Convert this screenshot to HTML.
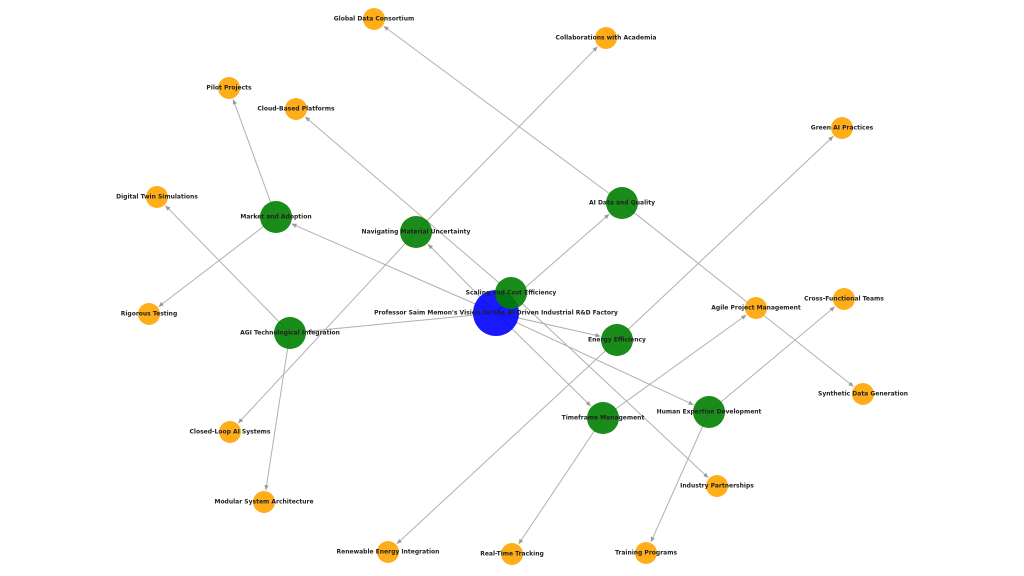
<!DOCTYPE html>
<html><head><meta charset="utf-8"><style>
html,body{margin:0;padding:0;background:#fff;}
svg{display:block;}
text{font-family:"DejaVu Sans","Liberation Sans",sans-serif;font-size:6px;font-weight:bold;fill:#222;text-anchor:middle;dominant-baseline:central;}
</style></head><body>
<svg id="s" width="1024" height="576" viewBox="0 0 1024 576">
<defs><marker id="a" markerWidth="6" markerHeight="6" refX="5" refY="3" orient="auto" markerUnits="userSpaceOnUse"><path d="M0,0.8 L5,3 L0,5.2 z" fill="#999"/></marker></defs>
<g id="e"></g><g id="n"></g><g id="t"></g>
</svg>
<script>
var N={
C:[496,313,23,"#0000ff","Professor Saim Memon's Vision for the AI-Driven Industrial R&D Factory"],
SC:[511,293,16,"#008000","Scaling and Cost Efficiency"],
AD:[622,203,16,"#008000","AI Data and Quality"],
NM:[416,232,16,"#008000","Navigating Material Uncertainty"],
MA:[276,217,16,"#008000","Market and Adoption"],
AG:[290,333,16,"#008000","AGI Technological Integration"],
EE:[617,340,16,"#008000","Energy Efficiency"],
TM:[603,418,16,"#008000","Timeframe Management"],
HE:[709,412,16,"#008000","Human Expertise Development"],
GD:[374,19,11,"#ffa500","Global Data Consortium"],
CA:[606,38,11,"#ffa500","Collaborations with Academia"],
PP:[229,88,11,"#ffa500","Pilot Projects"],
CB:[296,109,11,"#ffa500","Cloud-Based Platforms"],
GA:[842,128,11,"#ffa500","Green AI Practices"],
DT:[157,197,11,"#ffa500","Digital Twin Simulations"],
RT:[149,314,11,"#ffa500","Rigorous Testing"],
AP:[756,308,11,"#ffa500","Agile Project Management"],
CF:[844,299,11,"#ffa500","Cross-Functional Teams"],
SD:[863,394,11,"#ffa500","Synthetic Data Generation"],
CL:[230,432,11,"#ffa500","Closed-Loop AI Systems"],
MS:[264,502,11,"#ffa500","Modular System Architecture"],
IP:[717,486,11,"#ffa500","Industry Partnerships"],
RE:[388,552,11,"#ffa500","Renewable Energy Integration"],
RR:[512,554,11,"#ffa500","Real-Time Tracking"],
TP:[646,553,11,"#ffa500","Training Programs"]};
var E=[["C","SC"],["C","AD"],["C","NM"],["C","MA"],["C","AG"],["C","EE"],["C","TM"],["C","HE"],
["MA","PP"],["MA","RT"],["AG","DT"],["AG","MS"],["NM","CA"],["NM","CL"],["SC","CB"],["SC","IP"],
["AD","GD"],["AD","SD"],["EE","GA"],["EE","RE"],["TM","AP"],["TM","RR"],["HE","CF"],["HE","TP"]];
var ns="http://www.w3.org/2000/svg",g=document.getElementById("e");
E.forEach(function(p){var a=N[p[0]],b=N[p[1]],dx=b[0]-a[0],dy=b[1]-a[1],d=Math.hypot(dx,dy);
var l=document.createElementNS(ns,"line");l.setAttribute("x1",a[0]);l.setAttribute("y1",a[1]);
l.setAttribute("x2",b[0]-dx/d*(b[2]+1));l.setAttribute("y2",b[1]-dy/d*(b[2]+1));
l.setAttribute("stroke","#b0b0b0");l.setAttribute("stroke-width","1");l.setAttribute("marker-end","url(#a)");g.appendChild(l);});
var gn=document.getElementById("n"),gt=document.getElementById("t");
Object.keys(N).forEach(function(k){var v=N[k];var c=document.createElementNS(ns,"circle");
c.setAttribute("cx",v[0]);c.setAttribute("cy",v[1]);c.setAttribute("r",v[2]);c.setAttribute("fill",v[3]);c.setAttribute("fill-opacity","0.9");gn.appendChild(c);
var t=document.createElementNS(ns,"text");t.setAttribute("x",v[0]);t.setAttribute("y",v[1]);t.textContent=v[4];gt.appendChild(t);});
</script>
</body></html>
